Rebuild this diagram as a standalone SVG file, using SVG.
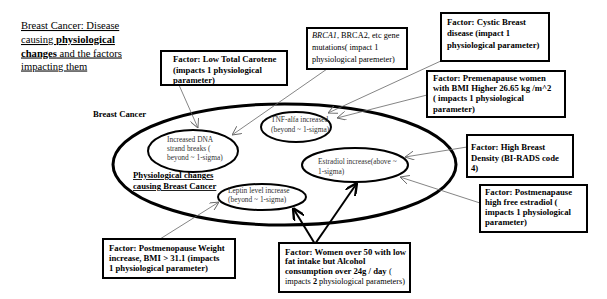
<svg xmlns="http://www.w3.org/2000/svg" width="607" height="299" viewBox="0 0 607 299">
<defs>
<style>
text{font-family:'Liberation Serif',serif}
.box{fill:#fff;stroke:#000;stroke-width:2}
.bt{font-size:8.7px;font-weight:bold;fill:#000}
.nt{font-size:8.3px;fill:#000}
.et{font-size:7.4px;fill:#333}
.ell{fill:none;stroke:#000;stroke-width:2}
.thin{stroke:#666;stroke-width:0.8;fill:none;marker-end:url(#oa)}
.thick{stroke:#000;stroke-width:2;fill:none;marker-end:url(#ta)}
</style>
<marker id="oa" viewBox="0 0 10 10" refX="10" refY="5" markerWidth="9" markerHeight="9" markerUnits="userSpaceOnUse" orient="auto">
<path d="M0,0 L10,5 L0,10" fill="none" stroke="#666" stroke-width="1"/>
</marker>
<marker id="ta" viewBox="0 0 10 10" refX="10" refY="5" markerWidth="12" markerHeight="12" markerUnits="userSpaceOnUse" orient="auto">
<path d="M0,0 L10,5 L0,10" fill="none" stroke="#000" stroke-width="2"/>
</marker>
</defs>
<rect width="607" height="299" fill="#fff"/>

<g id="title" font-family="Liberation Serif, serif" font-size="10.6" text-decoration="underline" fill="#000">
<text x="21" y="29">Breast Cancer: Disease</text>
<text x="21" y="43">causing <tspan font-weight="bold">physiological</tspan></text>
<text x="21" y="56.5"><tspan font-weight="bold">changes</tspan> and the factors</text>
<text x="21" y="69.5">impacting them</text>
</g>

<g id="breast-cancer" font-family="Liberation Serif, serif">
<ellipse cx="284.5" cy="164.5" rx="171.5" ry="60.5" fill="none" stroke="#000" stroke-width="3"/>
<text x="93" y="117" class="bt" font-size="9.2">Breast Cancer</text>
<text x="133" y="178" class="bt" font-size="9.7" text-decoration="underline">Physiological changes</text>
<text x="133" y="189" class="bt" font-size="9.7" text-decoration="underline">causing Breast Cancer</text>
</g>

<g id="dna" font-family="Liberation Serif, serif">
<ellipse class="ell" cx="193" cy="151" rx="45" ry="21"/>
<text class="et" x="167" y="142">Increased DNA</text>
<text class="et" x="167" y="151">strand breaks (</text>
<text class="et" x="167" y="160">beyond ~ 1-sigma)</text>
</g>

<g id="tnf" font-family="Liberation Serif, serif">
<ellipse class="ell" cx="296" cy="127" rx="35" ry="15"/>
<text class="et" x="271" y="122">TNF-alfa increased</text>
<text class="et" x="271" y="132">(beyond ~ 1-sigma)</text>
</g>

<g id="estradiol" font-family="Liberation Serif, serif">
<ellipse class="ell" cx="355" cy="165" rx="53" ry="17"/>
<text class="et" x="318" y="164">Estradiol increase(above ~</text>
<text class="et" x="318" y="174">1-sigma)</text>
</g>

<g id="leptin" font-family="Liberation Serif, serif">
<ellipse class="ell" cx="262" cy="197" rx="44" ry="13"/>
<text class="et" x="228" y="193">Leptin level increase</text>
<text class="et" x="228" y="202">(beyond ~ 1-sigma)</text>
</g>

<g id="connectors">
<line class="thin" x1="179" y1="85" x2="198" y2="128"/>
<line class="thin" x1="327" y1="69" x2="232" y2="135"/>
<line class="thin" x1="443" y1="60" x2="328" y2="113"/>
<line class="thin" x1="427" y1="95" x2="337" y2="118"/>
<line class="thin" x1="467" y1="147" x2="405" y2="157"/>
<line class="thin" x1="480" y1="203" x2="400" y2="177"/>
<line class="thin" x1="160" y1="239" x2="219" y2="202"/>
<line class="thick" x1="315" y1="244" x2="293" y2="208"/>
<line class="thick" x1="315" y1="244" x2="357" y2="183"/>
</g>

<g id="carotene" font-family="Liberation Serif, serif">
<rect class="box" x="161" y="51" width="126" height="34"/>
<text class="bt" x="173" y="62">Factor: Low Total Carotene</text>
<text class="bt" x="173" y="73">(impacts 1 physiological</text>
<text class="bt" x="173" y="83">parameter)</text>
</g>

<g id="brca" font-family="Liberation Serif, serif">
<rect class="box" x="307" y="28" width="100" height="41"/>
<text class="nt" x="312" y="38"><tspan font-style="italic">BRCA1</tspan>, BRCA2, etc gene</text>
<text class="nt" x="312" y="50">mutations( impact 1</text>
<text class="nt" x="312" y="62">physiological paremeter)</text>
</g>

<g id="cystic" font-family="Liberation Serif, serif">
<rect class="box" x="441" y="13" width="108" height="48"/>
<text class="bt" x="447" y="25">Factor: Cystic Breast</text>
<text class="bt" x="447" y="36">disease (impact 1</text>
<text class="bt" x="447" y="48">physiological parameter)</text>
</g>

<g id="premenapause" font-family="Liberation Serif, serif">
<rect class="box" x="427" y="71" width="138" height="46"/>
<text class="bt" x="433" y="81">Factor: Premenapause women</text>
<text class="bt" x="433" y="91">with BMI Higher 26.65 kg /m^2</text>
<text class="bt" x="433" y="101">( impacts 1 physiological</text>
<text class="bt" x="433" y="112">parameter)</text>
</g>

<g id="density" font-family="Liberation Serif, serif">
<rect class="box" x="467" y="135" width="106" height="42"/>
<text class="bt" x="471" y="150">Factor: High Breast</text>
<text class="bt" x="471" y="161">Density (BI-RADS code</text>
<text class="bt" x="471" y="171">4)</text>
</g>

<g id="free-estradiol" font-family="Liberation Serif, serif">
<rect class="box" x="480" y="185" width="107" height="47"/>
<text class="bt" x="485" y="195">Factor: Postmenapause</text>
<text class="bt" x="485" y="205">high free estradiol (</text>
<text class="bt" x="485" y="215">impacts 1 physiological</text>
<text class="bt" x="485" y="225">parameter)</text>
</g>

<g id="weight" font-family="Liberation Serif, serif">
<rect class="box" x="103" y="239" width="132" height="39"/>
<text class="bt" x="109" y="251">Factor: Postmenopause Weight</text>
<text class="bt" x="109" y="261">increase, BMI &gt; 31.1 (impacts</text>
<text class="bt" x="109" y="271">1 physiological parameter)</text>
</g>

<g id="alcohol" font-family="Liberation Serif, serif">
<rect class="box" x="279" y="243" width="131" height="49"/>
<text class="bt" x="285" y="255">Factor: Women over 50 with low</text>
<text class="bt" x="285" y="264">fat intake but Alcohol</text>
<text class="bt" x="285" y="274">consumption over 24g / day <tspan font-weight="normal">(</tspan></text>
<text class="nt" x="285" y="284">impacts <tspan font-weight="bold">2</tspan> physiological parameters)</text>
</g>
</svg>
